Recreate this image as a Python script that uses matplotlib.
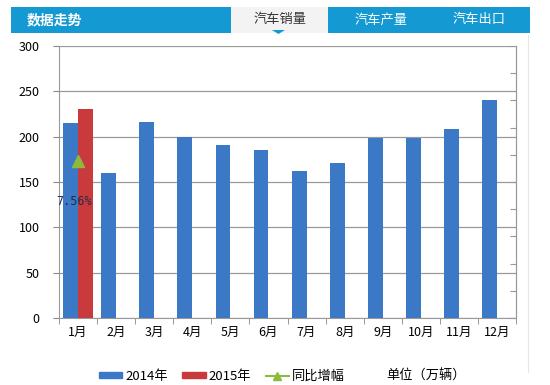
import numpy as np
import matplotlib.pyplot as plt
from matplotlib.patches import Rectangle, Polygon
from matplotlib.lines import Line2D

plt.rcParams['font.family'] = ['Noto Sans CJK SC', 'DejaVu Sans']

months = ['1月', '2月', '3月', '4月', '5月', '6月', '7月', '8月', '9月', '10月', '11月', '12月']
sales_2014 = [215, 160, 216, 200, 191, 185, 162, 171, 198, 198, 209, 240]
sales_2015 = [231]          # only January
growth = [7.56]             # 同比增幅 (%), January
tabs = ['汽车销量', '汽车产量', '汽车出口']

blue = '#3b78c6'
red = '#c93a3c'
green = '#8cbb3c'
head = '#1499d3'

fig = plt.figure(figsize=(5.5, 3.85), dpi=100)

# header band
fig.patches.append(Rectangle((11/550, 1-33/385), 519/550, 26/385, transform=fig.transFigure,
                             facecolor=head, edgecolor='none'))
fig.patches.append(Rectangle((231/550, 1-33/385), 97/550, 26/385, transform=fig.transFigure,
                             facecolor='#f3f3f3', edgecolor='none'))
fig.patches.append(Polygon([(272/550, 1-30/385), (285/550, 1-30/385), (278.5/550, 1-34/385)],
                           closed=True, transform=fig.transFigure, facecolor=head, edgecolor='none'))
fig.lines.append(Line2D([528/550, 528/550], [1-35/385, 1-372/385], transform=fig.transFigure,
                        color='#e6e6e6', lw=0.8))
fig.text(27/550, 1-20/385, '数据走势', color='white', fontsize=10, fontweight='bold', va='center')
for name, cx, col in zip(tabs, [280, 381, 479], ['#333333', 'white', 'white']):
    fig.text(cx/550, 1-20/385, name, color=col, fontsize=9.5, ha='center', va='center')

ax = fig.add_axes([59/550, 67/385, 457/550, 272/385])
x = np.arange(len(months))
w = 0.39
ax.bar(x - w/2, sales_2014, w, color=blue, zorder=3)
ax.bar(x[:len(sales_2015)] + w/2, sales_2015, w, color=red, zorder=3)

ax.set_xlim(-0.5, len(months) - 0.5)
ax.set_ylim(0, 300)
ax.set_yticks(range(0, 301, 50))
ax.set_xticks(x)
ax.set_xticklabels(months, fontsize=9)
ax.tick_params(axis='y', labelsize=9, length=4, color='#888888', pad=10)
ax.tick_params(axis='x', length=0, pad=6)
ax.set_xticks(np.arange(-0.5, len(months)), minor=True)
ax.tick_params(axis='x', which='minor', length=4, color='#888888')
ax.grid(axis='y', color='#999999', lw=0.9, zorder=0)
ax.spines['top'].set_visible(False)
for s in ['left', 'bottom', 'right']:
    ax.spines[s].set_color('#999999')

ax2 = ax.twinx()
ax2.set_ylim(-4, 16)
ax2.set_yticks(np.arange(-4, 17, 2))
ax2.set_yticklabels([])
ax2.tick_params(axis='y', direction='in', length=4, color='#999999')
for s in ['top', 'left', 'bottom']:
    ax2.spines[s].set_visible(False)
ax2.spines['right'].set_color('#999999')
ax2.plot(x[:len(growth)], growth, marker='^', color=green, markersize=9, lw=1.5, zorder=4)
ax2.annotate(f'{growth[0]:.2f}%', (x[0], growth[0]), xytext=(-3, -29), textcoords='offset points',
             ha='center', va='center', fontsize=8.5, color='#1f2d4d', family='DejaVu Sans Mono')

handles = [Rectangle((0, 0), 1, 1, color=blue), Rectangle((0, 0), 1, 1, color=red),
           Line2D([], [], color=green, marker='^', markersize=6, lw=1.5),
           Line2D([], [], color='none')]
labels = ['2014年', '2015年', '同比增幅', '单位（万辆）']
fig.legend(handles, labels, loc='center', bbox_to_anchor=(282/550, 1-376/385), ncol=4,
           frameon=False, fontsize=9.5, handlelength=1.8, handleheight=0.35, columnspacing=1.1,
           handletextpad=0.2)

fig.savefig('out.png', dpi=100)
